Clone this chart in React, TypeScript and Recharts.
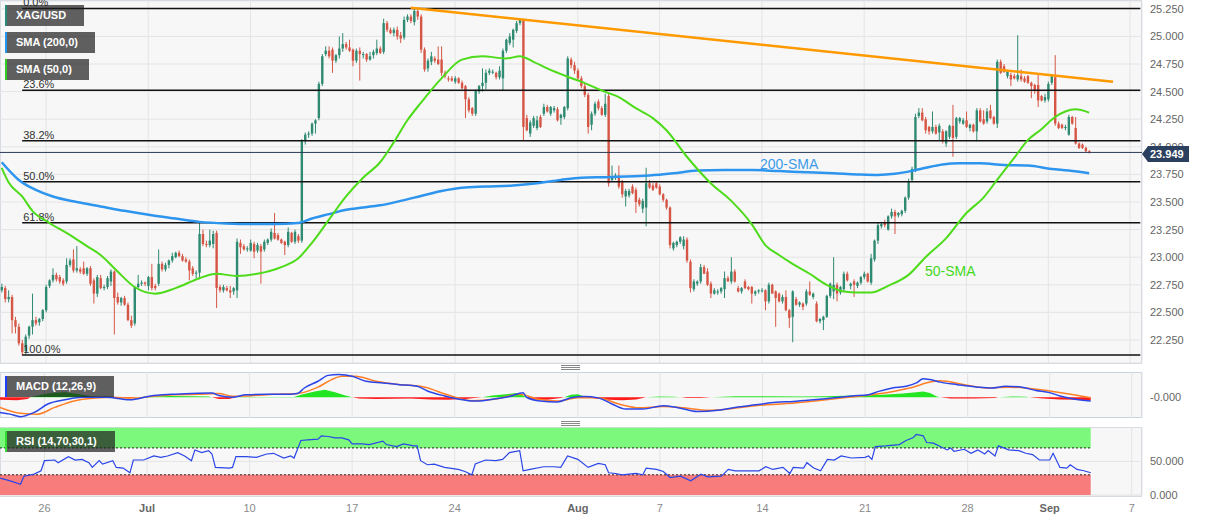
import React from "react";
import {
  ComposedChart,
  Bar,
  Line,
  Area,
  XAxis,
  YAxis,
  CartesianGrid,
  ReferenceLine,
  ReferenceArea,
} from "recharts";

// 4H candles, XAG/USD, late Jun -> 5 Sep
const opens = [
  22.70,22.72,22.62,22.64,22.43,22.37,22.22,22.15,22.29,22.37,
  22.43,22.41,22.44,22.52,22.74,22.79,22.84,22.82,22.79,22.78,
  22.93,22.98,22.88,22.89,22.90,22.85,22.90,22.79,22.67,22.81,
  22.72,22.73,22.78,22.87,22.64,22.59,22.63,22.57,22.43,22.40,
  22.73,22.76,22.77,22.74,22.82,22.74,22.76,22.94,22.89,22.93,
  22.97,23.00,23.04,23.01,22.98,22.96,22.90,22.85,22.86,23.21,
  23.12,23.11,23.12,23.22,22.73,22.70,22.72,22.70,22.69,22.70,
  23.13,23.10,23.08,23.06,23.12,23.06,23.10,23.07,23.13,23.16,
  23.22,23.20,23.16,23.14,23.11,23.22,23.14,23.19,23.15,24.05,
  24.11,24.12,24.21,24.26,24.57,24.84,24.87,24.88,24.78,24.83,
  24.89,24.93,24.90,24.88,24.78,24.87,24.84,24.84,24.79,24.83,
  24.85,24.89,24.86,25.12,25.06,25.03,25.06,25.01,24.99,25.15,
  25.18,25.13,25.23,25.18,24.88,24.71,24.77,24.80,24.79,24.79,
  24.67,24.62,24.62,24.59,24.62,24.58,24.55,24.43,24.35,24.30,
  24.50,24.55,24.58,24.67,24.68,24.67,24.63,24.62,24.87,24.94,
  24.97,25.05,25.12,25.15,24.26,24.12,24.19,24.17,24.27,24.30,
  24.36,24.30,24.33,24.34,24.26,24.27,24.35,24.79,24.74,24.69,
  24.62,24.55,24.47,24.20,24.30,24.41,24.35,24.29,24.46,23.70,
  23.72,23.74,23.68,23.55,23.56,23.64,23.61,23.52,23.44,23.45,
  23.67,23.65,23.67,23.64,23.57,23.52,23.45,23.08,23.11,23.14,
  23.10,23.16,22.96,22.71,22.76,22.78,22.91,22.87,22.76,22.67,
  22.68,22.69,22.71,22.81,22.78,22.87,22.72,22.69,22.78,22.73,
  22.73,22.67,22.69,22.70,22.70,22.60,22.75,22.69,22.67,22.60,
  22.64,22.52,22.46,22.62,22.57,22.58,22.58,22.69,22.64,22.58,
  22.42,22.43,22.46,22.65,22.69,22.75,22.68,22.71,22.85,22.74,
  22.78,22.74,22.77,22.82,22.85,22.77,22.98,23.15,23.28,23.31,
  23.25,23.37,23.41,23.38,23.39,23.42,23.54,23.70,23.79,24.28,
  24.31,24.25,24.18,24.14,24.18,24.13,24.14,24.03,24.09,24.19,
  24.09,24.23,24.21,24.24,24.17,24.20,24.14,24.33,24.25,24.23,
  24.33,24.27,24.21,24.77,24.73,24.64,24.65,24.64,24.61,24.64,
  24.62,24.64,24.58,24.56,24.56,24.46,24.42,24.43,24.58,24.63,
  24.21,24.20,24.17,24.11,24.27,24.17,24.03,24.02,23.99,23.96,
];
const highs = [
  22.76,22.74,22.70,22.66,22.46,22.40,22.25,22.30,22.38,22.67,
  22.46,22.45,22.53,22.75,22.80,22.90,22.86,22.84,22.81,22.99,
  22.99,23.07,23.10,22.91,22.96,22.91,22.92,22.81,22.84,22.84,
  22.75,22.83,22.89,22.88,22.68,22.64,22.65,22.59,22.47,22.74,
  22.84,22.79,22.78,22.83,22.94,22.76,23.07,22.96,22.95,22.98,
  23.04,23.05,23.06,23.03,23.00,22.98,22.92,22.88,23.31,23.25,
  23.15,23.25,23.24,23.24,22.75,22.75,22.74,22.74,22.73,23.17,
  23.16,23.12,23.10,23.16,23.14,23.13,23.12,23.16,23.17,23.26,
  23.40,23.22,23.17,23.15,23.27,23.23,23.25,23.21,24.07,24.13,
  24.14,24.22,24.25,24.59,24.84,24.91,24.91,24.90,24.84,25.00,
  25.03,24.95,24.97,24.89,24.89,24.90,24.86,24.85,24.86,24.88,
  24.97,24.91,25.16,25.14,25.08,25.08,25.09,25.04,25.18,25.20,
  25.20,25.25,25.24,25.20,24.90,24.80,24.86,24.82,24.91,24.91,
  24.69,24.64,24.64,24.64,24.63,24.60,24.56,24.45,24.36,24.52,
  24.56,24.71,24.70,24.71,24.70,24.68,24.73,24.89,24.98,25.03,
  25.07,25.14,25.16,25.16,24.29,24.24,24.28,24.28,24.29,24.39,
  24.38,24.37,24.37,24.36,24.30,24.37,24.82,24.81,24.77,24.71,
  24.64,24.57,24.49,24.32,24.41,24.43,24.37,24.48,24.49,23.83,
  23.76,23.83,23.70,23.62,23.62,23.66,23.63,23.54,23.53,23.81,
  23.70,23.67,23.68,23.66,23.58,23.53,23.46,23.14,23.15,23.19,
  23.19,23.18,22.98,22.80,22.79,22.94,22.93,22.90,22.78,22.72,
  22.71,22.73,22.87,22.83,23.00,22.89,22.74,22.73,22.80,22.74,
  22.74,22.70,22.71,22.72,22.71,22.77,22.76,22.70,22.68,22.66,
  22.70,22.53,22.70,22.64,22.60,22.59,22.71,22.78,22.68,22.60,
  22.45,22.47,22.66,22.77,23.00,22.77,22.74,22.87,22.87,22.77,
  22.80,22.78,22.83,22.87,22.86,23.03,23.16,23.31,23.32,23.34,
  23.38,23.44,23.43,23.41,23.43,23.55,23.71,23.82,24.30,24.35,
  24.35,24.27,24.19,24.32,24.20,24.21,24.16,24.15,24.20,24.38,
  24.27,24.27,24.26,24.32,24.21,24.21,24.35,24.35,24.33,24.35,
  24.38,24.28,24.79,24.79,24.75,24.69,24.67,24.66,25.01,24.70,
  24.64,24.65,24.59,24.57,24.65,24.47,24.48,24.59,24.66,24.83,
  24.23,24.21,24.20,24.29,24.28,24.27,24.04,24.03,24.00,23.97,
];
const lows = [
  22.68,22.59,22.59,22.31,22.31,22.20,22.11,22.12,22.26,22.30,
  22.38,22.38,22.42,22.50,22.72,22.77,22.78,22.76,22.74,22.76,
  22.91,22.86,22.86,22.85,22.84,22.83,22.74,22.58,22.64,22.71,
  22.70,22.71,22.74,22.30,22.57,22.56,22.56,22.42,22.36,22.38,
  22.71,22.74,22.74,22.70,22.70,22.70,22.74,22.87,22.87,22.90,
  22.95,22.99,23.00,22.96,22.95,22.79,22.83,22.81,22.80,23.10,
  23.09,23.09,23.08,22.54,22.68,22.68,22.69,22.63,22.66,22.63,
  23.03,23.06,23.05,23.05,22.99,23.04,22.76,23.05,23.11,23.14,
  23.16,23.15,23.12,23.02,23.09,23.13,23.12,23.13,23.13,24.02,
  24.08,24.10,24.12,24.24,24.55,24.82,24.80,24.67,24.76,24.80,
  24.86,24.88,24.86,24.73,24.76,24.60,24.80,24.77,24.78,24.80,
  24.83,24.84,24.84,25.04,25.02,25.00,24.97,24.94,24.97,25.13,
  25.12,25.10,25.15,24.85,24.68,24.68,24.74,24.76,24.74,24.64,
  24.62,24.59,24.59,24.57,24.57,24.52,24.26,24.31,24.28,24.28,
  24.48,24.50,24.52,24.65,24.66,24.61,24.61,24.51,24.85,24.92,
  24.90,25.03,25.10,24.06,24.14,24.09,24.17,24.15,24.17,24.28,
  24.31,24.28,24.31,24.23,24.20,24.25,24.33,24.71,24.66,24.60,
  24.53,24.45,24.12,24.15,24.28,24.33,24.28,24.27,23.64,23.68,
  23.70,23.62,23.54,23.46,23.54,23.57,23.40,23.46,23.40,23.28,
  23.62,23.60,23.62,23.56,23.50,23.43,23.08,23.06,23.09,23.12,
  23.07,22.95,22.68,22.69,22.74,22.76,22.85,22.74,22.63,22.66,
  22.66,22.67,22.63,22.78,22.76,22.77,22.68,22.67,22.71,22.70,
  22.58,22.65,22.67,22.68,22.52,22.58,22.67,22.37,22.59,22.58,
  22.51,22.36,22.23,22.56,22.55,22.52,22.56,22.65,22.62,22.41,
  22.40,22.34,22.45,22.63,22.62,22.60,22.66,22.69,22.78,22.71,
  22.64,22.72,22.75,22.80,22.77,22.75,22.96,23.12,23.26,23.27,
  23.24,23.35,23.21,23.36,23.37,23.40,23.52,23.68,23.77,24.26,
  24.23,24.12,24.11,24.12,24.11,24.06,24.03,24.00,24.07,23.91,
  24.07,24.21,24.20,24.17,24.14,24.13,24.05,24.22,24.20,24.21,
  24.25,24.20,24.17,24.66,24.67,24.62,24.55,24.61,24.59,24.59,
  24.58,24.57,24.44,24.48,24.36,24.41,24.40,24.41,24.56,24.19,
  24.16,24.16,24.15,24.10,24.20,24.02,23.98,23.98,23.95,23.94,
];
const closes = [
  22.73,22.62,22.64,22.43,22.37,22.22,22.14,22.28,22.37,22.43,
  22.40,22.44,22.52,22.73,22.79,22.84,22.80,22.78,22.76,22.93,
  22.97,22.88,22.90,22.87,22.85,22.90,22.76,22.67,22.82,22.72,
  22.73,22.81,22.87,22.63,22.59,22.63,22.57,22.43,22.38,22.73,
  22.76,22.77,22.76,22.82,22.72,22.72,22.94,22.89,22.93,22.97,
  23.01,23.04,23.01,22.97,22.96,22.88,22.85,22.86,23.21,23.12,
  23.11,23.15,23.21,22.72,22.70,22.73,22.70,22.68,22.72,23.14,
  23.09,23.07,23.08,23.13,23.05,23.11,23.05,23.14,23.16,23.23,
  23.17,23.16,23.13,23.11,23.23,23.14,23.23,23.15,24.05,24.11,
  24.12,24.21,24.24,24.57,24.82,24.87,24.82,24.78,24.83,24.89,
  24.93,24.90,24.87,24.78,24.87,24.84,24.84,24.79,24.82,24.86,
  24.89,24.85,25.12,25.06,25.03,25.06,25.00,24.98,25.15,25.18,
  25.14,25.23,25.18,24.88,24.70,24.78,24.82,24.78,24.75,24.67,
  24.64,24.61,24.60,24.62,24.58,24.53,24.43,24.33,24.30,24.51,
  24.55,24.58,24.67,24.69,24.68,24.63,24.69,24.87,24.97,25.00,
  25.06,25.12,25.15,24.18,24.15,24.22,24.26,24.24,24.18,24.36,
  24.32,24.36,24.35,24.24,24.29,24.36,24.80,24.74,24.69,24.62,
  24.55,24.47,24.18,24.30,24.39,24.35,24.29,24.39,23.67,23.73,
  23.74,23.64,23.57,23.60,23.60,23.58,23.50,23.48,23.51,23.67,
  23.63,23.61,23.63,23.57,23.52,23.45,23.11,23.13,23.14,23.18,
  23.16,22.97,22.72,22.78,22.78,22.91,22.85,22.75,22.67,22.70,
  22.69,22.72,22.81,22.78,22.87,22.78,22.69,22.72,22.72,22.71,
  22.67,22.69,22.70,22.70,22.60,22.75,22.67,22.63,22.60,22.64,
  22.52,22.45,22.69,22.57,22.59,22.55,22.69,22.66,22.67,22.42,
  22.44,22.46,22.65,22.76,22.75,22.67,22.73,22.85,22.79,22.76,
  22.75,22.77,22.82,22.85,22.78,22.99,23.15,23.29,23.30,23.29,
  23.37,23.41,23.37,23.40,23.42,23.54,23.69,23.80,24.27,24.31,
  24.24,24.15,24.14,24.18,24.12,24.19,24.05,24.14,24.19,24.08,
  24.26,24.26,24.24,24.18,24.20,24.14,24.33,24.23,24.21,24.32,
  24.26,24.21,24.77,24.67,24.68,24.68,24.61,24.62,24.65,24.61,
  24.59,24.58,24.55,24.51,24.42,24.42,24.45,24.57,24.64,24.21,
  24.17,24.17,24.18,24.27,24.21,24.03,23.99,23.99,23.96,23.949,
];

// [candle index, value] samples
const sma200Pts: [number, number][] = [
  [0, 23.86], [5, 23.7], [10, 23.61], [15, 23.55], [22, 23.5], [29, 23.46], [36, 23.42],
  [44, 23.38], [51, 23.35], [58, 23.32], [66, 23.305], [73, 23.3], [80, 23.3], [87, 23.31],
  [91, 23.35], [96, 23.39], [101, 23.43], [106, 23.45], [111, 23.47], [117, 23.51],
  [123, 23.555], [129, 23.6], [135, 23.63], [142, 23.64], [150, 23.65], [157, 23.67],
  [164, 23.7], [170, 23.72], [177, 23.725], [183, 23.73], [190, 23.74], [197, 23.76],
  [204, 23.785], [212, 23.79], [220, 23.79], [228, 23.78], [236, 23.77], [244, 23.76],
  [251, 23.75], [257, 23.745], [262, 23.755], [266, 23.775], [271, 23.81], [276, 23.84],
  [281, 23.85], [287, 23.85], [294, 23.835], [301, 23.83], [308, 23.8], [313, 23.785], [319, 23.76],
];
const sma50Pts: [number, number][] = [
  [0, 23.81], [2, 23.68], [6, 23.55], [9, 23.42], [14, 23.31], [19, 23.22], [25, 23.1],
  [29, 23.02], [34, 22.87], [39, 22.73], [45, 22.67], [51, 22.72], [58, 22.81], [63, 22.85],
  [69, 22.83], [75, 22.85], [82, 22.91], [87, 22.99], [91, 23.13], [96, 23.34], [101, 23.55],
  [106, 23.72], [111, 23.86], [115, 24.04], [119, 24.24], [123, 24.4], [129, 24.62],
  [135, 24.79], [141, 24.82], [148, 24.8], [152, 24.82], [156, 24.77], [160, 24.71],
  [166, 24.635], [170, 24.59], [176, 24.51], [181, 24.45], [186, 24.35], [191, 24.26],
  [195, 24.15], [201, 23.91], [208, 23.67], [214, 23.51], [220, 23.3], [224, 23.11],
  [228, 23.02], [232, 22.94], [237, 22.85], [242, 22.75], [247, 22.69], [251, 22.68],
  [255, 22.68], [260, 22.74], [266, 22.84], [271, 23.0], [277, 23.17], [283, 23.4],
  [288, 23.54], [292, 23.7], [297, 23.9], [301, 24.06], [305, 24.16], [309, 24.27],
  [312, 24.32], [315, 24.34], [319, 24.31],
];
const trendPts: [number, number][] = [[120, 25.26], [326, 24.59]];

const rsiPts: [number, number][] = [
  [0, 25], [3, 21], [6, 16], [7, 28], [10, 31], [12, 36], [13, 51], [16, 52], [17, 48], [20, 57],
  [22, 52], [24, 53], [26, 48], [27, 41], [29, 51], [30, 46], [33, 51], [34, 41], [36, 40], [38, 33],
  [39, 52], [42, 52], [45, 58], [47, 56], [49, 58], [52, 63], [54, 58], [56, 51], [57, 67], [59, 63],
  [61, 66], [62, 61], [63, 41], [67, 40], [68, 41], [69, 57], [72, 57], [75, 56], [78, 61], [80, 62],
  [83, 55], [85, 58], [86, 55], [88, 81], [90, 82], [93, 83], [94, 88], [96, 87], [98, 85], [100, 85],
  [102, 82], [103, 76], [106, 76], [108, 75], [112, 80], [113, 75], [116, 72], [118, 76], [121, 73],
  [122, 73], [123, 51], [125, 45], [127, 46], [130, 41], [134, 38], [136, 35], [138, 30], [139, 46],
  [142, 52], [145, 51], [147, 53], [149, 63], [152, 66], [153, 36], [155, 38], [159, 42], [162, 42],
  [164, 41], [166, 58], [169, 53], [172, 41], [175, 47], [177, 45], [178, 33], [180, 32], [182, 30],
  [186, 32], [188, 30], [189, 40], [192, 38], [194, 35], [196, 26], [199, 28], [202, 21], [205, 31],
  [207, 27], [211, 28], [213, 38], [215, 36], [219, 36], [222, 36], [224, 42], [226, 38], [229, 41],
  [231, 32], [232, 41], [235, 40], [236, 48], [238, 40], [240, 36], [242, 53], [244, 52], [246, 58],
  [249, 55], [253, 56], [254, 58], [255, 53], [256, 72], [259, 73], [263, 75], [265, 81], [267, 85],
  [268, 90], [270, 88], [271, 78], [273, 77], [275, 72], [277, 67], [278, 70], [279, 65], [282, 68],
  [284, 62], [286, 67], [288, 61], [289, 66], [291, 58], [292, 73], [295, 67], [298, 66], [300, 62],
  [302, 60], [304, 52], [307, 52], [308, 62], [310, 41], [312, 40], [313, 45], [315, 38], [317, 36],
  [319, 33],
];
const macdPts: [number, number][] = [
  [0, -0.18], [3, -0.2], [6, -0.23], [10, -0.18], [14, -0.08], [19, -0.03], [24, 0], [31, 0],
  [38, -0.03], [44, 0.016], [50, 0.035], [56, 0.045], [62, 0.05], [64, 0.02], [68, 0], [72, 0.03],
  [78, 0.035], [83, 0.035], [87, 0.045], [89, 0.11], [93, 0.19], [96, 0.26], [99, 0.27], [103, 0.25],
  [107, 0.19], [112, 0.17], [117, 0.15], [122, 0.13], [125, 0.075], [130, 0.016], [134, -0.02],
  [139, -0.045], [143, -0.03], [149, 0.008], [153, 0.055], [154, 0], [158, -0.045], [163, -0.055],
  [167, -0.006], [171, 0.008], [175, -0.007], [179, -0.08], [183, -0.14], [188, -0.14], [194, -0.1],
  [198, -0.12], [204, -0.17], [210, -0.155], [215, -0.12], [221, -0.09], [227, -0.06], [232, -0.05],
  [238, -0.03], [244, -0.007], [249, 0.016], [254, 0.03], [257, 0.07], [261, 0.11], [265, 0.13],
  [268, 0.17], [270, 0.22], [272, 0.21], [275, 0.18], [280, 0.15], [286, 0.12], [290, 0.11],
  [294, 0.13], [298, 0.125], [303, 0.08], [307, 0.055], [310, 0.016], [314, -0.02], [319, -0.045],
];
const signalPts: [number, number][] = [
  [0, -0.12], [6, -0.19], [11, -0.2], [16, -0.12], [22, -0.04], [28, -0.01], [33, 0], [39, -0.01],
  [44, 0.008], [51, 0.03], [58, 0.035], [64, 0.045], [68, 0.012], [74, 0.02], [80, 0.035], [87, 0.045],
  [93, 0.12], [97, 0.21], [100, 0.25], [104, 0.25], [110, 0.19], [117, 0.15], [123, 0.13], [132, 0.016],
  [138, -0.04], [145, -0.02], [152, 0.035], [157, -0.02], [163, -0.045], [169, -0.006], [175, -0.007],
  [181, -0.08], [187, -0.125], [194, -0.11], [200, -0.125], [207, -0.155], [213, -0.14], [221, -0.1],
  [230, -0.075], [239, -0.04], [248, 0], [255, 0.03], [262, 0.075], [267, 0.12], [272, 0.18],
  [275, 0.195], [282, 0.15], [289, 0.11], [295, 0.12], [300, 0.11], [307, 0.075], [314, 0.03], [319, -0.007],
];
const histPts: [number, number][] = [
  [0, -0.03], [5, -0.035], [8, -0.02], [9, 0], [12, 0.03], [15, 0.05], [19, 0.06], [23, 0.04],
  [27, 0.01], [30, 0], [34, -0.008], [38, -0.012], [40, 0], [44, 0.01], [50, 0.015], [56, 0.012],
  [61, 0.008], [62, 0], [64, -0.02], [67, -0.02], [69, 0], [72, 0.005], [80, 0.004], [86, 0.004],
  [88, 0.03], [92, 0.07], [95, 0.09], [98, 0.06], [101, 0.02], [103, 0], [105, -0.015], [110, -0.02],
  [115, -0.018], [120, -0.015], [126, -0.025], [131, -0.028], [136, -0.02], [141, 0], [144, 0.02],
  [148, 0.035], [151, 0.05], [153, 0.02], [154, 0], [156, -0.025], [160, -0.03], [164, -0.01],
  [165, 0], [167, 0.03], [169, 0.035], [171, 0.01], [172, 0], [174, -0.015], [178, -0.03],
  [182, -0.035], [186, -0.025], [189, 0], [193, 0.008], [197, 0.006], [199, 0], [201, -0.01],
  [205, -0.008], [208, 0], [215, 0.012], [225, 0.012], [235, 0.01], [241, 0.012], [250, 0.02],
  [258, 0.03], [264, 0.045], [268, 0.06], [270, 0.07], [272, 0.05], [274, 0.01], [275, 0],
  [278, -0.015], [285, -0.015], [291, -0.01], [292, 0], [296, 0.01], [300, 0.006], [301, 0],
  [305, -0.015], [310, -0.025], [315, -0.03], [319, -0.035],
];

const xTickIdx = [13, 43, 73, 103, 133, 169, 193, 223, 253, 283, 307, 331];
const xTickLabels = ["26", "Jul", "10", "17", "24", "Aug", "7", "14", "21", "28", "Sep", "7"];
const priceTicks = [22.25, 22.5, 22.75, 23, 23.25, 23.5, 23.75, 24, 24.25, 24.5, 24.75, 25, 25.25];

const fibHigh = 25.253;
const fibLow = 22.114;
const fibRatios = [0, 0.236, 0.382, 0.5, 0.618, 1];
const fibLabels = ["0.0%", "23.6%", "38.2%", "50.0%", "61.8%", "100.0%"];
const lastPrice = 23.949;

const SLOTS = 335;
const GREEN = "#2f8a72";
const RED = "#d65646";
const FONT = "'Liberation Sans', Arial, sans-serif";

type Row = {
  i: number;
  o: number | null; h: number | null; l: number | null; c: number | null;
  sma200: number | null; sma50: number | null; trend: number | null;
  rsi: number | null; macd: number | null; signal: number | null;
  histPos: number | null; histNeg: number | null;
};

const rows: Row[] = Array.from({ length: SLOTS }, (_, i) => {
  const has = i < closes.length;
  return {
    i,
    o: has ? opens[i] : null,
    h: has ? highs[i] : null,
    l: has ? lows[i] : null,
    c: has ? closes[i] : null,
    sma200: null, sma50: null, trend: null, rsi: null,
    macd: null, signal: null, histPos: null, histNeg: null,
  };
});
sma200Pts.forEach(([i, v]) => (rows[i].sma200 = v));
sma50Pts.forEach(([i, v]) => (rows[i].sma50 = v));
trendPts.forEach(([i, v]) => (rows[i].trend = v));
rsiPts.forEach(([i, v]) => (rows[i].rsi = v));
macdPts.forEach(([i, v]) => (rows[i].macd = v));
signalPts.forEach(([i, v]) => (rows[i].signal = v));
histPts.forEach(([i, v]) => {
  rows[i].histPos = Math.max(v, 0);
  rows[i].histNeg = Math.min(v, 0);
});

const Candle = (props: any) => {
  const { x, y, width, height, payload } = props;
  if (!payload || payload.h == null) return null;
  const { o, h, l, c } = payload;
  const span = h - l || 0.01;
  const py = (p: number) => y + ((h - p) / span) * height;
  const color = c >= o ? GREEN : RED;
  const cx = x + width / 2;
  const top = py(Math.max(o, c));
  const bot = py(Math.min(o, c));
  const bw = 2.4;
  return (
    <g>
      <line x1={cx} x2={cx} y1={y} y2={y + height} stroke={color} strokeWidth={1} />
      <rect x={cx - bw / 2} y={top} width={bw} height={Math.max(1, bot - top)} fill={color} />
    </g>
  );
};

const XTick = (props: any) => {
  const { x, y, payload } = props;
  const k = xTickIdx.indexOf(payload.value);
  const label = k >= 0 ? xTickLabels[k] : "";
  const month = /[A-Za-z]/.test(label);
  return (
    <text x={x} y={y} dy="0.71em" textAnchor="middle" fontSize={11}
      fontWeight={month ? 700 : 400} fill={month ? "#666" : "#8a8a8a"}>
      {label}
    </text>
  );
};

const fibLabel = (text: string) => (p: any) => {
  const vb = p.viewBox || {};
  return (
    <text x={(vb.x ?? 0) + 1} y={(vb.y ?? 0) - 2} fontSize={11} fill="#333">
      {text}
    </text>
  );
};

const panelStyle = (top: number, height: number): React.CSSProperties => ({
  position: "absolute", left: 0, top, width: 1142, height,
  background: "#f7f7f7", border: "1px solid #c9d2e1", boxSizing: "border-box",
});

const Tag = ({ top, width, accent, text }: { top: number; width: number; accent: string; text: string }) => (
  <div style={{
    position: "absolute", left: 5, top, width, height: 21, background: "rgba(30,30,30,0.7)",
    borderLeft: `2px solid ${accent}`, boxSizing: "border-box", color: "#fff",
    fontSize: 11, fontWeight: 700, lineHeight: "21px", paddingLeft: 9, whiteSpace: "nowrap",
  }}>{text}</div>
);

const Handle = ({ top }: { top: number }) => (
  <div style={{ position: "absolute", left: 561, top, width: 19 }}>
    {[0, 1, 2].map((k) => (
      <div key={k} style={{ height: 1, background: "#888", marginBottom: 1.2 }} />
    ))}
  </div>
);

const yTick = { fontSize: 11, fill: "#666" };

export default function App() {
  return (
    <div style={{ position: "relative", width: 1207, height: 521, background: "#fff", fontFamily: FONT, overflow: "hidden" }}>
      <style>{"body{margin:0;}"}</style>
      <div style={panelStyle(0, 364)} />
      <div style={panelStyle(372, 46)} />
      <div style={panelStyle(427, 70)} />

      <div style={{ position: "absolute", left: 0, top: 0 }}>
        <ComposedChart width={1207} height={364} data={rows} margin={{ top: 1, right: 0, bottom: 1, left: 0 }}>
          <CartesianGrid stroke="#e4e4e4" />
          <XAxis dataKey="i" type="category" hide ticks={xTickIdx} interval={0} />
          <YAxis orientation="right" width={65} domain={[22.0417, 25.3207]} allowDataOverflow
            ticks={priceTicks} tickFormatter={(v: number) => v.toFixed(3)}
            axisLine={false} tickLine={false} tick={yTick} />
          {fibRatios.map((r, k) => {
            const lvl = fibHigh - (fibHigh - fibLow) * r;
            return (
              <ReferenceLine key={k} segment={[{ x: 6, y: lvl }, { x: SLOTS - 1, y: lvl }]}
                stroke="#111" strokeWidth={1.5} label={fibLabel(fibLabels[k])} />
            );
          })}
          <ReferenceLine y={lastPrice} stroke="#2b3a55" strokeWidth={1} />
          <Bar dataKey={(d: Row) => (d.h == null ? null : [d.l, d.h])} shape={Candle} isAnimationActive={false} />
          <Line dataKey="sma200" stroke="#2e95ee" strokeWidth={2.5} dot={false} connectNulls type="monotone" isAnimationActive={false} />
          <Line dataKey="sma50" stroke="#4ddb1a" strokeWidth={2} dot={false} connectNulls type="monotone" isAnimationActive={false} />
          <Line dataKey="trend" stroke="#ff9900" strokeWidth={2.5} dot={false} connectNulls type="linear" isAnimationActive={false} />
        </ComposedChart>
      </div>

      <div style={{ position: "absolute", left: 0, top: 372 }}>
        <ComposedChart width={1207} height={46} data={rows} margin={{ top: 0, right: 0, bottom: 0, left: 0 }}>
          <CartesianGrid horizontal={false} stroke="#e4e4e4" />
          <XAxis dataKey="i" type="category" hide ticks={xTickIdx} interval={0} />
          <YAxis orientation="right" width={65} domain={[-0.246, 0.3]} allowDataOverflow ticks={[0]}
            tickFormatter={() => "-0.000"} axisLine={false} tickLine={false} tick={yTick} />
          <Area dataKey="histPos" fill="#22e622" fillOpacity={1} stroke="none" baseValue={0} connectNulls type="linear" isAnimationActive={false} />
          <Area dataKey="histNeg" fill="#ff1a1a" fillOpacity={1} stroke="none" baseValue={0} connectNulls type="linear" isAnimationActive={false} />
          <Line dataKey="signal" stroke="#ff7f27" strokeWidth={1.5} dot={false} connectNulls type="monotone" isAnimationActive={false} />
          <Line dataKey="macd" stroke="#2a45e8" strokeWidth={1.5} dot={false} connectNulls type="monotone" isAnimationActive={false} />
        </ComposedChart>
      </div>

      <div style={{ position: "absolute", left: 0, top: 427 }}>
        <ComposedChart width={1207} height={94} data={rows} margin={{ top: 0, right: 0, bottom: 0, left: 0 }}>
          <CartesianGrid stroke="#e4e4e4" />
          <XAxis dataKey="i" type="category" ticks={xTickIdx} interval={0} tick={<XTick />}
            axisLine={false} tickLine={false} height={25} />
          <YAxis orientation="right" width={65} domain={[-1.5, 101.1]} allowDataOverflow ticks={[0, 50]}
            tickFormatter={(v: number) => v.toFixed(3)} axisLine={false} tickLine={false} tick={yTick} />
          <ReferenceArea x1={0} x2={closes.length - 1} y1={70} y2={100} fill="#7cf87c" fillOpacity={1} stroke="none" />
          <ReferenceArea x1={0} x2={closes.length - 1} y1={0} y2={30} fill="#f87c7c" fillOpacity={1} stroke="none" />
          <ReferenceLine segment={[{ x: 0, y: 70 }, { x: closes.length - 1, y: 70 }]} stroke="#222" strokeDasharray="2 2" />
          <ReferenceLine segment={[{ x: 0, y: 30 }, { x: closes.length - 1, y: 30 }]} stroke="#222" strokeDasharray="2 2" />
          <Line dataKey="rsi" stroke="#2a45e8" strokeWidth={1.2} dot={false} connectNulls type="linear" isAnimationActive={false} />
        </ComposedChart>
      </div>

      <Tag top={5} width={79} accent="#2a8a7a" text="XAG/USD" />
      <Tag top={32} width={90} accent="#2196f3" text="SMA (200,0)" />
      <Tag top={59} width={84} accent="#33cc22" text="SMA (50,0)" />
      <Tag top={376} width={109} accent="#1f3fff" text="MACD (12,26,9)" />
      <Tag top={431} width={110} accent="#33dd33" text="RSI (14,70,30,1)" />

      <Handle top={365} />
      <Handle top={421} />

      <div style={{ position: "absolute", left: 760, top: 156, fontSize: 14, color: "#3d9be9" }}>200-SMA</div>
      <div style={{ position: "absolute", left: 925, top: 263, fontSize: 14, color: "#44d81c" }}>50-SMA</div>

      <div style={{
        position: "absolute", left: 1142, top: 146, width: 47, height: 16, background: "#2b3f5e",
        clipPath: "polygon(0 50%, 6px 0, 100% 0, 100% 100%, 6px 100%)", color: "#fff",
        fontSize: 11, fontWeight: 700, lineHeight: "16px", paddingLeft: 8, boxSizing: "border-box",
      }}>23.949</div>
    </div>
  );
}
